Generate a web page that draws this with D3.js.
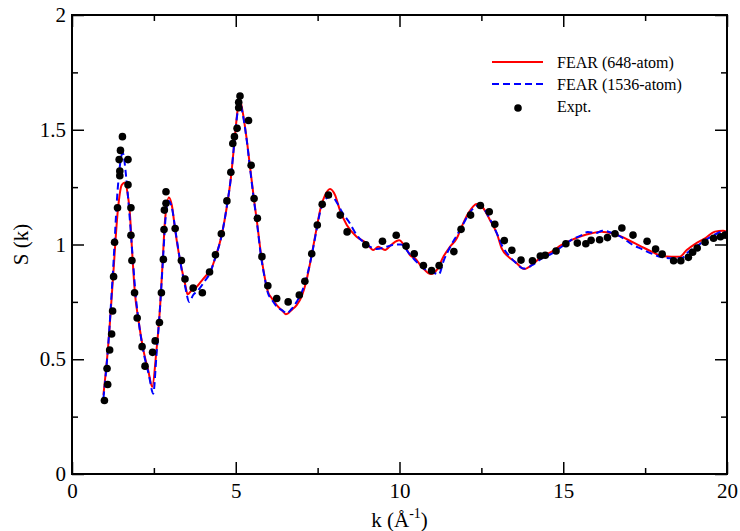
<!DOCTYPE html>
<html>
<head>
<meta charset="utf-8">
<script src="https://cdn.jsdelivr.net/npm/d3@7"></script>
<style>
  @font-face { font-family: "PlotSerif"; src: local("Liberation Serif"), local("LiberationSerif"), local("LiberationSerif-Regular"), local("Times New Roman"); }
</style>
</head>
<body style="margin:0;background:#fff">
<svg id="chart" width="740" height="531" style="display:block"></svg>
<script>
// Structure factor S(k): FEAR models (648- and 1536-atom) and experiment.
const kFear648 = [0.96,1.10,1.25,1.40,1.52,1.62,1.70,1.76,1.84,1.92,2.03,2.18,2.33,2.45,2.57,2.69,2.77,2.84,2.96,3.05,3.15,3.30,3.45,3.53,3.65,3.81,3.95,4.11,4.21,4.37,4.57,4.72,4.85,4.96,5.05,5.11,5.21,5.33,5.43,5.54,5.66,5.76,5.89,5.98,6.10,6.25,6.45,6.53,6.71,6.86,7.01,7.15,7.30,7.45,7.59,7.73,7.88,8.03,8.18,8.39,8.69,9.00,9.20,9.35,9.56,9.76,9.99,10.17,10.32,10.47,10.68,10.96,11.14,11.34,11.54,11.75,11.90,12.10,12.36,12.56,12.76,12.97,13.12,13.32,13.53,13.81,14.04,14.34,14.65,14.95,15.26,15.56,15.87,16.17,16.48,16.78,17.09,17.40,17.70,18.01,18.31,18.56,18.77,19.02,19.33,19.63,19.88,20.0];
const sFear648 = [0.345,0.55,0.85,1.15,1.26,1.27,1.22,1.15,0.96,0.79,0.67,0.54,0.45,0.38,0.525,0.73,0.93,1.105,1.205,1.17,1.063,0.93,0.83,0.783,0.80,0.816,0.84,0.867,0.88,0.94,1.04,1.158,1.288,1.448,1.579,1.637,1.579,1.463,1.346,1.216,1.085,0.969,0.853,0.795,0.766,0.736,0.707,0.696,0.715,0.736,0.773,0.838,0.94,1.056,1.158,1.216,1.242,1.216,1.15,1.085,1.034,1.005,0.976,0.99,0.976,1.0,1.018,0.99,0.954,0.94,0.903,0.871,0.889,0.947,0.99,1.027,1.078,1.136,1.176,1.158,1.107,1.049,0.983,0.947,0.925,0.893,0.911,0.947,0.969,0.998,1.02,1.037,1.049,1.056,1.049,1.034,1.012,0.99,0.969,0.95,0.947,0.947,0.976,1.002,1.027,1.056,1.06,1.055];

const kFear1536 = [0.96,1.10,1.25,1.40,1.55,1.65,1.76,1.86,1.95,2.05,2.20,2.35,2.48,2.58,2.69,2.78,2.86,2.95,3.05,3.17,3.30,3.45,3.58,3.70,3.85,4.05,4.21,4.37,4.57,4.72,4.85,4.96,5.05,5.12,5.21,5.33,5.43,5.54,5.66,5.76,5.89,5.98,6.10,6.25,6.45,6.55,6.71,6.86,7.01,7.15,7.30,7.45,7.59,7.75,7.93,8.10,8.25,8.45,8.70,9.00,9.30,9.60,9.85,10.05,10.30,10.55,10.80,11.00,11.20,11.35,11.55,11.75,11.95,12.15,12.40,12.60,12.80,13.00,13.15,13.35,13.55,13.80,14.05,14.35,14.65,14.95,15.25,15.55,15.75,16.00,16.20,16.50,16.80,17.10,17.40,17.70,18.00,18.30,18.60,18.80,19.05,19.35,19.65,19.85,20.0];
const sFear1536 = [0.33,0.55,0.88,1.25,1.40,1.30,1.12,0.93,0.77,0.65,0.52,0.43,0.35,0.52,0.73,0.94,1.12,1.19,1.16,1.05,0.93,0.82,0.75,0.78,0.80,0.84,0.875,0.94,1.04,1.16,1.29,1.45,1.57,1.62,1.57,1.46,1.34,1.21,1.08,0.96,0.85,0.79,0.76,0.73,0.71,0.70,0.72,0.75,0.79,0.85,0.94,1.05,1.15,1.20,1.21,1.18,1.14,1.10,1.04,1.00,0.98,0.99,1.00,1.00,0.96,0.92,0.89,0.88,0.87,0.93,0.99,1.04,1.09,1.14,1.17,1.15,1.10,1.04,0.99,0.95,0.92,0.895,0.91,0.94,0.96,0.99,1.02,1.04,1.055,1.05,1.06,1.05,1.03,1.00,0.98,0.96,0.945,0.94,0.94,0.965,0.99,1.02,1.045,1.055,1.05];

const kExpt = [0.99,1.07,1.09,1.15,1.21,1.24,1.27,1.30,1.39,1.46,1.46,1.44,1.48,1.54,1.71,1.71,1.80,1.80,1.83,1.91,1.99,2.14,2.23,2.46,2.54,2.67,2.73,2.79,2.81,2.82,2.87,2.87,3.15,3.34,3.45,3.70,3.98,4.20,4.38,4.56,4.73,4.85,4.91,4.96,5.04,5.09,5.09,5.13,5.39,5.47,5.56,5.66,5.80,5.98,6.25,6.60,6.94,7.11,7.32,7.49,7.64,7.83,8.19,8.40,8.97,9.48,9.90,10.20,10.45,10.73,10.98,11.21,11.66,11.88,12.17,12.47,12.74,12.91,13.20,13.43,13.71,14.06,14.30,14.45,14.78,15.08,15.43,15.69,15.85,16.11,16.35,16.58,16.79,17.13,17.56,17.82,18.02,18.37,18.59,18.82,18.95,19.09,19.33,19.59,19.80,19.94];
const sExpt = [0.32,0.46,0.39,0.54,0.61,0.71,0.86,1.01,1.16,1.30,1.32,1.37,1.41,1.47,1.37,1.26,1.16,1.04,0.93,0.79,0.68,0.555,0.47,0.53,0.58,0.66,0.79,0.935,1.065,1.15,1.18,1.23,1.07,0.93,0.85,0.81,0.79,0.88,0.955,1.047,1.19,1.315,1.44,1.47,1.506,1.596,1.62,1.647,1.54,1.345,1.20,1.114,0.947,0.82,0.765,0.75,0.78,0.84,0.96,1.085,1.175,1.216,1.128,1.055,0.999,1.014,1.04,0.993,0.96,0.908,0.886,0.908,0.969,1.066,1.128,1.17,1.143,1.088,1.017,0.975,0.932,0.929,0.95,0.953,0.972,1.003,1.006,1.003,1.018,1.021,1.03,1.047,1.072,1.041,1.014,0.98,0.958,0.929,0.929,0.944,0.966,0.985,1.01,1.027,1.034,1.041];

const xMajor = [0, 5, 10, 15, 20];
const xMinor = [2.5, 7.5, 12.5, 17.5];
const yMajor = [0, 0.5, 1, 1.5, 2];
const yMinor = [0.25, 0.75, 1.25, 1.75];
const legendLabels = ["FEAR (648-atom)", "FEAR (1536-atom)", "Expt."];

const SERIF = "'Times New Roman', 'PlotSerif', 'Liberation Serif', Times";

const svg = d3.select("#chart");
const m = { left: 72, right: 13, top: 15, bottom: 57 };
const W = 740, H = 531;
const iw = W - m.left - m.right, ih = H - m.top - m.bottom;

const x = d3.scaleLinear().domain([0, 20]).range([m.left, m.left + iw]);
const y = d3.scaleLinear().domain([0, 2]).range([m.top + ih, m.top]);

// Clip for the curves
svg.append("defs").append("clipPath").attr("id", "plotclip")
  .append("rect").attr("x", m.left).attr("y", m.top).attr("width", iw).attr("height", ih);

const line = d3.line().x(d => x(d[0])).y(d => y(d[1])).curve(d3.curveMonotoneX);

const plot = svg.append("g").attr("clip-path", "url(#plotclip)");
plot.append("path")
  .datum(d3.zip(kFear648, sFear648))
  .attr("d", line).attr("fill", "none").attr("stroke", "#ff0000").attr("stroke-width", 2);
plot.append("path")
  .datum(d3.zip(kFear1536, sFear1536))
  .attr("d", line).attr("fill", "none").attr("stroke", "#0000ff").attr("stroke-width", 2)
  .attr("stroke-dasharray", "7,4");
plot.append("g").selectAll("circle")
  .data(d3.zip(kExpt, sExpt)).join("circle")
  .attr("cx", d => x(d[0])).attr("cy", d => y(d[1])).attr("r", 3.8).attr("fill", "#000");

// Axes: inward ticks on all four sides, major labelled
function styleAxis(sel) {
  sel.attr("font-family", SERIF).attr("font-size", 21);
  sel.select(".domain").remove();
  sel.selectAll(".tick line").attr("stroke", "#000").attr("stroke-width", 1.5);
  sel.selectAll(".tick text").attr("fill", "#000").style("font-family", SERIF);
}
const fmt = d => String(d);

svg.append("g").attr("transform", `translate(0,${m.top + ih})`)
  .call(d3.axisBottom(x).tickValues(xMajor).tickSize(-12).tickPadding(9).tickFormat(fmt)).call(styleAxis);
svg.append("g").attr("transform", `translate(0,${m.top + ih})`)
  .call(d3.axisBottom(x).tickValues(xMinor).tickSize(-6).tickFormat("")).call(styleAxis);
svg.append("g").attr("transform", `translate(0,${m.top})`)
  .call(d3.axisTop(x).tickValues(xMajor).tickSize(-12).tickFormat("")).call(styleAxis);
svg.append("g").attr("transform", `translate(0,${m.top})`)
  .call(d3.axisTop(x).tickValues(xMinor).tickSize(-6).tickFormat("")).call(styleAxis);

svg.append("g").attr("transform", `translate(${m.left},0)`)
  .call(d3.axisLeft(y).tickValues(yMajor).tickSize(-12).tickPadding(6).tickFormat(fmt)).call(styleAxis);
svg.append("g").attr("transform", `translate(${m.left},0)`)
  .call(d3.axisLeft(y).tickValues(yMinor).tickSize(-6).tickFormat("")).call(styleAxis);
svg.append("g").attr("transform", `translate(${m.left + iw},0)`)
  .call(d3.axisRight(y).tickValues(yMajor).tickSize(-12).tickFormat("")).call(styleAxis);
svg.append("g").attr("transform", `translate(${m.left + iw},0)`)
  .call(d3.axisRight(y).tickValues(yMinor).tickSize(-6).tickFormat("")).call(styleAxis);

// Frame
svg.append("rect").attr("x", m.left).attr("y", m.top).attr("width", iw).attr("height", ih)
  .attr("fill", "none").attr("stroke", "#000").attr("stroke-width", 2);

// Axis titles
const xt = svg.append("text").attr("x", x(10)).attr("y", 527).attr("text-anchor", "middle")
  .style("font-family", SERIF).attr("font-size", 21);
xt.append("tspan").text("k (Å");
xt.append("tspan").attr("dy", -9).attr("font-size", 14).text("-1");
xt.append("tspan").attr("dy", 9).text(")");

svg.append("text").attr("transform", `translate(28,${y(1)}) rotate(-90)`)
  .attr("text-anchor", "middle").style("font-family", SERIF).attr("font-size", 21).text("S (k)");

// Legend
const lg = svg.append("g").attr("transform", "translate(492,62)");
const rowH = 22;
lg.append("line").attr("x1", 0).attr("x2", 51).attr("y1", 0).attr("y2", 0)
  .attr("stroke", "#ff0000").attr("stroke-width", 2);
lg.append("line").attr("x1", 0).attr("x2", 51).attr("y1", rowH).attr("y2", rowH)
  .attr("stroke", "#0000ff").attr("stroke-width", 2).attr("stroke-dasharray", "7,4");
lg.append("circle").attr("cx", 26).attr("cy", 2 * rowH + 2).attr("r", 3.8).attr("fill", "#000");
lg.selectAll("text").data(legendLabels).join("text")
  .attr("x", 65).attr("y", (d, i) => i * rowH + 5.5)
  .style("font-family", SERIF).attr("font-size", 16).text(d => d);
</script>
</body>
</html>
